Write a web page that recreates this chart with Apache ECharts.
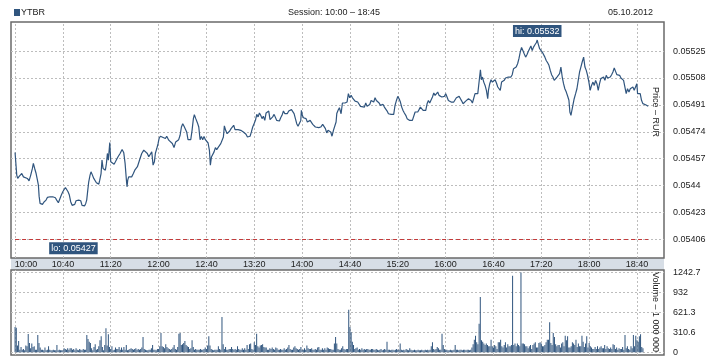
<!DOCTYPE html>
<html><head><meta charset="utf-8">
<script src="https://cdn.jsdelivr.net/npm/echarts@6/dist/echarts.min.js"></script>
<style>html,body{margin:0;padding:0;background:#fff}#c{width:718px;height:360px}</style>
</head><body><div id="c"></div>
<script>
// ---- data ----
const title = 'YTBR';
const sessionText = 'Session: 10:00 – 18:45';
const dateText = '05.10.2012';
// minutes after 10:00 for each time tick, and its label
const timeTicks = [0, 40, 80, 120, 160, 200, 240, 280, 320, 360, 400, 440, 480, 520];
const timeLabels = ['10:00','10:40','11:20','12:00','12:40','13:20','14:00','14:40','15:20','16:00','16:40','17:20','18:00','18:40'];
const priceTicks = [0.05406, 0.05423, 0.0544, 0.05457, 0.05474, 0.05491, 0.05508, 0.05525];
const volumeTicks = [0, 310.6, 621.3, 932, 1242.7];
const refLevel = 0.05406;
// price: [minutes after 10:00, price RUR]
const pricePoints = [
[0,0.054609],[1,0.054508],[1.4,0.054466],[2.2,0.054445],[3.6,0.05446],[5.6,0.054476],[7,0.054455],[8.4,0.054445],[10.3,0.054445],[11.7,0.05443],[13.1,0.054466],[14.5,0.054508],[15.3,0.05454],[16.4,0.054508],[17.6,0.054476],[18.7,0.054434],[19.5,0.054403],[20.1,0.054333],[20.9,0.054287],[21.7,0.054277],[22.9,0.054281],[24.2,0.054296],[25.9,0.054308],[27,0.054325],[28.1,0.054317],[29.3,0.054329],[30.4,0.05434],[31.5,0.054329],[32.6,0.054333],[33.7,0.054323],[34.8,0.054308],[36.2,0.054291],[37.6,0.054298],[38.7,0.05434],[39.9,0.054361],[41,0.054371],[42.1,0.054388],[43.2,0.054382],[44.3,0.054361],[45.4,0.05434],[46.5,0.054298],[47.7,0.054275],[48.8,0.05427],[49.9,0.054281],[51,0.054304],[52.1,0.054312],[53.2,0.054308],[54.1,0.054319],[54.9,0.054304],[56,0.054275],[57.1,0.054277],[58.2,0.054272],[59.1,0.054287],[59.9,0.054308],[60.8,0.054371],[61.6,0.054424],[62.7,0.054466],[63.5,0.054487],[64.7,0.054466],[65.8,0.054445],[66.9,0.054434],[68,0.054418],[68.8,0.05443],[70,0.054409],[70.8,0.054434],[71.9,0.054476],[72.7,0.054561],[73.6,0.054508],[74.7,0.054514],[75.5,0.054497],[76.4,0.05454],[77.2,0.054603],[78,0.054561],[78.9,0.054645],[79.2,0.054672],[80,0.05455],[81.1,0.054544],[82.8,0.054535],[83.9,0.05455],[85,0.054561],[86.1,0.054582],[87.8,0.054603],[89.5,0.054628],[90.9,0.054607],[92,0.05454],[93.1,0.054434],[93.6,0.054392],[94.2,0.054434],[95,0.054455],[96.2,0.054445],[97.5,0.054455],[98.9,0.054476],[100.1,0.054497],[101.2,0.054491],[102.3,0.054519],[103.4,0.054529],[104.5,0.054571],[105.9,0.054603],[107.6,0.054624],[108.7,0.054619],[110.6,0.054603],[111.8,0.054582],[112.9,0.054586],[114.3,0.054613],[115.4,0.054529],[116.5,0.05455],[117.3,0.054603],[118.5,0.054634],[119.6,0.054666],[120.4,0.054697],[121.5,0.054712],[122.9,0.054712],[125.7,0.054697],[126.8,0.054712],[128.5,0.054687],[129.9,0.054676],[131.5,0.054666],[132.9,0.05464],[134.3,0.054676],[135.7,0.054676],
[136.8,0.05469],[138,0.054718],[139.1,0.05477],[140.2,0.054791],[141.3,0.054775],[142.4,0.054781],[143.5,0.054739],[144.6,0.05469],[146.9,0.05469],[148,0.054749],[149.1,0.054823],[149.9,0.054848],[151.1,0.054823],[152.5,0.054796],[153.6,0.05477],[154.7,0.05469],[155.8,0.054711],[156.9,0.05469],[158,0.054711],[159.1,0.05469],[160.3,0.054682],[161.4,0.054669],[162.5,0.054623],[163.3,0.054529],[164.2,0.054581],[165.3,0.054592],[166.4,0.054613],[167.5,0.05464],[168.6,0.054627],[169.7,0.05464],[170.9,0.054648],[172,0.054665],[173.1,0.054655],[174.2,0.054707],[175,0.054777],[176.1,0.054749],[177.3,0.054728],[178.4,0.054718],[179.5,0.054745],[180.6,0.05476],[181.7,0.05477],[182.8,0.054781],[183.9,0.054754],[185.1,0.054745],[186.5,0.054754],[187.6,0.054745],[188.7,0.054749],[189.8,0.05476],[190.9,0.054739],[192,0.054749],[193.1,0.054724],[194.3,0.054707],[195.4,0.054697],[196.5,0.054712],[197.6,0.054739],[198.7,0.05477],[199.8,0.05476],[201,0.054812],[202.1,0.05485],[203.2,0.054834],[204.3,0.054859],[205.4,0.054844],[206.5,0.054823],[207.6,0.054838],[208.8,0.054812],[209.9,0.054859],[211,0.054865],[212.1,0.054871],[213.2,0.054817],[214.3,0.054812],[215.4,0.054834],[216.6,0.05485],[217.7,0.054844],[218.8,0.054812],[219.9,0.054817],[221,0.054808],[222.1,0.054829],[223.2,0.054844],[224.4,0.054871],[225.5,0.054855],[226.6,0.054865],[227.7,0.054855],[228.8,0.054871],[229.9,0.054876],[231.1,0.05488],[232.2,0.054871],[233.3,0.054855],[234.4,0.054823],[235.5,0.054791],[236.6,0.054775],[237.7,0.05477],[238.9,0.054812],[239.4,0.054876],[240.2,0.054844],[241.1,0.054829],[242.2,0.054834],[243.3,0.054823],[244.4,0.054802],[245.5,0.054791],[246.7,0.054812],[247.8,0.054823],[248.9,0.054787],[250,0.054781],[251.1,0.05477],[252.2,0.05477],[253.9,0.054766],[255.6,0.05477],[257.2,0.054787],[258.4,0.054796],[259.5,0.05476],[260.6,0.054733],[261.7,0.054749],[262.8,0.05476],[263.9,0.054739],[265,0.054712],[266.2,0.054749],[267.3,0.05476],[268.4,0.054802],[269,0.054855],[270.1,0.054876],[271.2,0.054892],
[272.6,0.054854],[273.7,0.054922],[275.9,0.054922],[277.6,0.054928],[278.7,0.054981],[279.8,0.054955],[281,0.05497],[282.1,0.054955],[283.2,0.054949],[284.3,0.054934],[285.4,0.054928],[286.5,0.054928],[287.6,0.054922],[288.8,0.054901],[289.9,0.054896],[292.1,0.054896],[293.2,0.054922],[294.3,0.054901],[295.4,0.054896],[296.6,0.054913],[297.7,0.054938],[298.8,0.054949],[299.9,0.054928],[301,0.054955],[302.1,0.054938],[303.2,0.054943],[304.4,0.054922],[305.5,0.054907],[306.6,0.054901],[307.7,0.054913],[308.8,0.054896],[309.9,0.054886],[311.1,0.054871],[312.2,0.054854],[313.3,0.054865],[314.4,0.05485],[316.6,0.05485],[317.7,0.054907],[318.9,0.054938],[320,0.054964],[321.1,0.054949],[322.2,0.054928],[323.3,0.054896],[324.4,0.054875],[325.5,0.054859],[326.7,0.054844],[327.8,0.054823],[328.9,0.054829],[330,0.054812],[331.1,0.054802],[332.2,0.054812],[333.3,0.054816],[334.5,0.054865],[335.6,0.054875],[336.7,0.054865],[337.8,0.05488],[338.9,0.054896],[340,0.054886],[341.2,0.054875],[342.3,0.054865],[343.4,0.054875],[344.5,0.054917],[345.6,0.054938],[346.7,0.054922],[347.8,0.054928],[349,0.05496],[350.1,0.054985],[351.2,0.05497],[352.3,0.054981],[353.4,0.054991],[354.5,0.05497],[355.6,0.054976],[356.8,0.05496],[357.9,0.054955],[359,0.054964],[360.1,0.054981],[361.2,0.05496],[362.3,0.054938],[363.4,0.054949],[364.6,0.054928],[365.7,0.054922],[366.8,0.054928],[367.9,0.054938],[369,0.054955],[370.1,0.054964],[371.3,0.054964],[372.4,0.054949],[373.5,0.054934],[374.6,0.054917],[375.7,0.054922],[376.8,0.054934],[377.9,0.054943],[379.1,0.054949],[380.2,0.054943],[381.3,0.054938],[382.4,0.054922],[383.5,0.054934],[384.6,0.054981],[385.7,0.054991],[386.9,0.054981],[388,0.05497],[389.1,0.055132],[389.9,0.055069],[390.8,0.055086],[391.9,0.055054],[393,0.055033],[394.1,0.055002],[395.2,0.054949],[395.8,0.055002],[396.9,0.055044],[398,0.055069],[399.1,0.055054],[400.2,0.055044],[401.4,0.055069],[402.5,0.055048],[403.6,0.055023],
[404.6,0.055023],[405.7,0.055002],[406.8,0.055054],[407.9,0.055059],[409,0.055065],[410.1,0.05508],[411.3,0.055092],[412.4,0.055086],[413.5,0.055097],[414.6,0.055086],[415.7,0.055101],[416.8,0.055139],[417.9,0.055143],[419,0.055149],[420.2,0.05517],[421.3,0.055202],[422.4,0.055244],[423.5,0.055273],[424.6,0.055254],[425.7,0.055233],[426.9,0.055212],[428,0.055227],[429.1,0.055248],[430.2,0.055265],[431.3,0.055282],[432.4,0.055254],[433.5,0.055275],[434.7,0.05529],[435.8,0.055303],[436.6,0.05532],[437.4,0.055296],[438.6,0.055265],[439.7,0.055254],[440.8,0.055244],[441.9,0.055233],[443,0.055212],[444.1,0.055191],[445.3,0.055176],[446.4,0.05516],[447.5,0.055128],[448.6,0.055101],[449.7,0.055086],[450.8,0.055065],[451.9,0.055054],[453.1,0.055086],[454.2,0.055076],[455.3,0.055107],[456.4,0.055149],[457.5,0.055086],[458.6,0.055044],[459.7,0.055012],[460.9,0.054991],[462,0.054966],[463.1,0.054939],[463.9,0.054865],[464.8,0.054844],[465.6,0.054876],[466.4,0.054907],[467.5,0.054949],[468.7,0.054981],[469.8,0.055012],[470.9,0.055065],[472,0.055118],[473.1,0.055149],[474.2,0.055181],[475.4,0.055212],[476.5,0.055149],[477.6,0.055128],[478.7,0.055097],[479.8,0.055054],[480.9,0.055002],[482,0.055033],[483.2,0.055054],[484.3,0.055033],[485.4,0.055065],[486.5,0.055044],[487.6,0.055002],[488.7,0.055044],[489.8,0.055076],[491,0.055065],[492.1,0.055086],[493.2,0.055065],[494.3,0.055097],[495.4,0.05508],[496.5,0.055071],[497.7,0.055086],[498.8,0.055101],[499.9,0.055118],[501,0.055143],[502.1,0.055122],[503.2,0.055101],[504.3,0.055092],[505.5,0.055097],[506.6,0.05508],[507.7,0.055092],[508.8,0.055065],[509.9,0.055054],[511,0.054981],[512.1,0.055012],[513.3,0.054991],[514.4,0.055012],[515.5,0.055002],[516.6,0.055023],[517.7,0.055002],[518.8,0.055012],[519.9,0.055044],[520.5,0.054981],[521.6,0.054991],[522.7,0.054981],[523.8,0.054939],[524.9,0.054918],[526,0.054911],[527.2,0.054911],[528.3,0.054907],[529.4,0.054901]
];
// volume per minute (units of 1 000 000), index = minutes after 10:00
const volumeValues = [
394,380,104,176,41,83,41,52,31,104,
93,285,145,62,135,83,93,41,41,270,
145,73,41,41,31,73,31,41,93,41,
31,31,41,31,31,114,31,41,31,31,
31,62,52,41,62,41,62,62,41,52,
31,62,41,31,52,41,31,52,41,41,
270,207,166,145,62,31,83,124,41,52,
93,186,249,83,31,114,373,104,280,83,
52,93,31,41,73,52,52,83,41,73,
41,83,41,114,31,41,52,62,52,41,
52,62,41,52,41,52,73,238,52,41,
31,31,41,41,62,114,41,41,31,52,
52,93,300,93,83,62,124,83,62,52,
41,52,73,114,52,41,83,290,300,114,
124,145,176,114,93,83,52,62,186,83,
41,52,41,41,41,52,41,41,52,73,
52,104,249,104,52,41,31,41,41,41,
93,52,41,549,124,52,83,41,41,52,
52,83,52,41,52,41,93,52,41,41,
62,41,62,41,114,52,124,135,52,41,
155,114,290,93,73,104,114,124,83,73,
73,41,41,62,52,73,52,41,73,62,
41,41,52,41,41,62,41,52,73,114,
52,41,41,73,93,62,52,41,52,83,
41,41,62,41,104,62,52,52,62,41,
41,52,41,73,83,41,41,62,41,62,
41,73,62,52,52,41,41,135,238,135,
52,41,41,62,93,52,41,52,52,663,
394,311,166,114,52,62,73,41,52,41,
62,41,52,41,52,52,41,41,52,52,
41,41,52,41,31,41,52,31,41,52,
41,166,41,41,31,41,41,31,41,52,
41,41,135,41,31,41,31,52,41,31,
62,41,31,31,41,31,31,41,31,31,
41,31,31,41,31,41,31,41,93,155,
52,41,52,83,62,41,41,290,114,52,
31,41,31,31,41,31,31,41,114,41,
41,31,41,41,31,41,41,31,41,41,
31,41,73,124,197,259,155,124,445,860,
186,166,135,114,135,114,93,93,197,93,
73,114,93,52,155,155,197,93,73,114,
155,73,124,93,93,114,1191,114,135,93,
135,114,93,1240,135,135,124,93,93,62,
93,114,52,114,135,155,73,73,145,155,
135,93,93,114,155,197,197,466,145,114,
300,238,124,93,114,114,73,135,155,93,
259,186,249,73,73,93,155,135,114,197,
83,135,93,93,259,166,83,135,249,73,
145,93,73,52,52,83,52,93,52,73,
93,62,62,114,52,93,62,52,73,52,
124,114,52,73,41,62,52,52,83,41,
270,62,93,52,41,93,62,270,93,259,
186,166,249,280,83,62
];

// ---- chart ----
const FONT = "'Liberation Sans', Arial, sans-serif";
const FS = 9;
const TXT = '#222';
const BLUE = '#30557e';
const GRIDC = '#bdbdbd';
const FRAME = '#6a6a6a';
const xMin = -3.4, xMax = 542.6;

let hi = pricePoints[0], lo = pricePoints[0];
pricePoints.forEach(p => { if (p[1] > hi[1]) hi = p; if (p[1] < lo[1]) lo = p; });

const fmtTime = v => {
  const i = timeTicks.indexOf(v);
  if (i < 0) return '';
  return i === 0 ? '{first|' + timeLabels[i] + '}' : timeLabels[i];
};
const tagLabel = (txt, pos, dist) => ({
  show: true, position: pos, distance: dist, formatter: txt,
  color: '#fff', backgroundColor: BLUE, padding: [1, 2, 0, 2],
  fontFamily: FONT, fontSize: FS, lineHeight: 11
});
const gridLineStyle = { color: GRIDC, type: [2, 2], width: 1 };
const vGridLines = timeTicks.map(t => ({ xAxis: t }));

const chart = echarts.init(document.getElementById('c'), null, { renderer: 'canvas' });
chart.setOption({
  animation: false,
  backgroundColor: '#fff',
  textStyle: { fontFamily: FONT },
  grid: [
    { left: 11, right: 54, top: 22, height: 236, show: true, borderColor: FRAME, borderWidth: 1.5, backgroundColor: 'transparent' },
    { left: 11, right: 54, top: 270, height: 85, show: true, borderColor: FRAME, borderWidth: 1.5, backgroundColor: 'transparent' }
  ],
  xAxis: [
    { type: 'value', gridIndex: 0, min: xMin, max: xMax,
      axisLine: { show: false },
      axisTick: { show: false, customValues: timeTicks },
      axisLabel: { customValues: timeTicks, formatter: fmtTime, color: TXT, fontSize: FS, fontFamily: FONT, margin: 2,
        rich: { first: { padding: [0, 0, 0, 22], color: TXT, fontSize: FS, fontFamily: FONT } } },
      splitLine: { show: false } },
    { type: 'value', gridIndex: 1, min: xMin, max: xMax,
      axisLine: { show: false },
      axisTick: { show: false },
      axisLabel: { show: false },
      splitLine: { show: false } }
  ],
  yAxis: [
    { type: 'value', gridIndex: 0, position: 'right', min: 0.053942, max: 0.055434, scale: true,
      axisLine: { show: false },
      axisTick: { show: false, customValues: priceTicks },
      axisLabel: { customValues: priceTicks, formatter: v => String(v), color: TXT, fontSize: FS, fontFamily: FONT, margin: 9 },
      splitLine: { show: true, lineStyle: gridLineStyle } },
    { type: 'value', gridIndex: 1, position: 'right', min: -42, max: 1280,
      axisLine: { show: false },
      axisTick: { show: false, customValues: volumeTicks },
      axisLabel: { customValues: volumeTicks, formatter: v => String(v), color: TXT, fontSize: FS, fontFamily: FONT, margin: 9 },
      splitLine: { show: true, lineStyle: gridLineStyle } }
  ],
  graphic: [
    { type: 'rect', z: -10, shape: { x: 11, y: 258, width: 653, height: 12 }, style: { fill: '#d7dee6' } },
    { type: 'rect', shape: { x: 14, y: 9, width: 6, height: 7 }, style: { fill: BLUE } },
    { type: 'text', x: 21, y: 13, style: { text: title, fill: TXT, font: FS + 'px ' + FONT, verticalAlign: 'middle' } },
    { type: 'text', x: 334, y: 13, style: { text: sessionText, fill: TXT, font: FS + 'px ' + FONT, align: 'center', verticalAlign: 'middle' } },
    { type: 'text', x: 653, y: 13, style: { text: dateText, fill: TXT, font: FS + 'px ' + FONT, align: 'right', verticalAlign: 'middle' } },
    { type: 'text', x: 655, y: 112, rotation: -Math.PI / 2, style: { text: 'Price – RUR', fill: TXT, font: FS + 'px ' + FONT, align: 'center', verticalAlign: 'middle' } },
    { type: 'text', x: 655, y: 312, rotation: -Math.PI / 2, style: { text: 'Volume – 1 000 000', fill: TXT, font: FS + 'px ' + FONT, align: 'center', verticalAlign: 'middle' } }
  ],
  series: [
    // invisible anchors carrying the vertical time grid lines (price panel)
    { type: 'scatter', xAxisIndex: 0, yAxisIndex: 0, silent: true, symbolSize: 0, z: 1,
      data: timeTicks.map(t => [t, priceTicks[0]]),
      markLine: { silent: true, z: 1, symbol: 'none', label: { show: false }, lineStyle: gridLineStyle, data: vGridLines } },
    // invisible anchors carrying the vertical time grid lines (volume panel)
    { type: 'scatter', xAxisIndex: 1, yAxisIndex: 1, silent: true, symbolSize: 0, z: 1,
      data: timeTicks.map(t => [t, 0]),
      markLine: { silent: true, z: 1, symbol: 'none', label: { show: false }, lineStyle: gridLineStyle, data: vGridLines } },
    { type: 'line', xAxisIndex: 0, yAxisIndex: 0, data: pricePoints, symbol: 'none', z: 3,
      lineStyle: { color: BLUE, width: 1.2 }, clip: true,
      markLine: { silent: true, symbol: 'none', label: { show: false },
        lineStyle: { color: '#c43a3a', type: [4, 3], width: 1 },
        data: [[{ coord: [pricePoints[0][0], refLevel] }, { coord: [pricePoints[pricePoints.length - 1][0], refLevel] }]] },
      markPoint: { silent: true, symbol: 'rect', symbolSize: 0,
        data: [
          { coord: [hi[0], hi[1]], label: tagLabel('hi: ' + hi[1].toFixed(5), 'top', 3) },
          { coord: [lo[0], refLevel], label: tagLabel('lo: ' + lo[1].toFixed(5), 'bottom', 3) }
        ] } },
    { type: 'bar', xAxisIndex: 1, yAxisIndex: 1, data: volumeValues.map((v, i) => [i, v]),
      barWidth: 1, itemStyle: { color: BLUE }, z: 3 }
  ]
});
</script></body></html>
